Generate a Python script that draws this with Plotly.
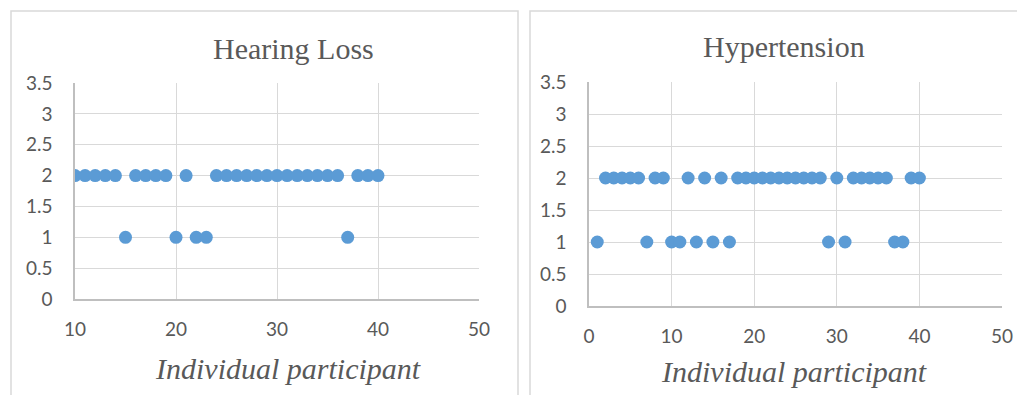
import plotly.graph_objects as go

# Data
hl_participant = list(range(10, 41))
hl_values = [2, 2, 2, 2, 2, 1, 2, 2, 2, 2, 1, 2, 1, 1, 2, 2, 2, 2, 2, 2, 2, 2, 2, 2, 2, 2, 2, 1, 2, 2, 2]
ht_participant = list(range(1, 41))
ht_values = [1, 2, 2, 2, 2, 2, 1, 2, 2, 1, 1, 2, 1, 2, 1, 2, 1, 2, 2, 2,
             2, 2, 2, 2, 2, 2, 2, 2, 1, 2, 1, 2, 2, 2, 2, 2, 1, 1, 2, 2]
titles = ["Hearing Loss", "Hypertension"]
x_title = "Individual participant"

OFF = 8  # page body margin
W, H = 1025 - OFF, 395 - OFF
BLUE = "#5B9BD5"
GRID = "#D9D9D9"
AXIS = "#BFBFBF"
TXT = "#595959"
TICKFONT = dict(family="Lato, 'Open Sans', sans-serif", size=19, color=TXT)
SERIF = "'Liberation Serif', 'Times New Roman', serif"

def fx(px):
    return (px - OFF) / W

def fy(py):
    return 1 - (py - OFF) / H

fig = go.Figure()
fig.add_trace(go.Scatter(x=hl_participant, y=hl_values, mode="markers",
                         marker=dict(color=BLUE, size=13), xaxis="x", yaxis="y", showlegend=False))
fig.add_trace(go.Scatter(x=ht_participant, y=ht_values, mode="markers",
                         marker=dict(color=BLUE, size=13), xaxis="x2", yaxis="y2", showlegend=False))

common_x = dict(dtick=10, showgrid=True, gridcolor=GRID, gridwidth=1.3, showline=True,
                linecolor=AXIS, linewidth=1.5, zeroline=False, tickfont=TICKFONT,
                ticks="", ticklabelstandoff=12, fixedrange=True, automargin=False)
common_y = dict(range=[0, 3.5], dtick=0.5, showgrid=True, gridcolor=GRID, gridwidth=1.3,
                showline=True, linecolor=AXIS, linewidth=1.5, zeroline=False,
                tickfont=TICKFONT, ticks="", ticklabelstandoff=17, fixedrange=True, automargin=False)

fig.update_layout(
    width=W, height=H,
    margin=dict(l=0, r=0, t=0, b=0, pad=0, autoexpand=False),
    paper_bgcolor="white", plot_bgcolor="white",
    xaxis=dict(common_x, range=[10, 50], domain=[fx(75), fx(479)], anchor="y"),
    yaxis=dict(common_y, domain=[fy(299), fy(83)], anchor="x"),
    xaxis2=dict(common_x, range=[0, 50], domain=[fx(589), fx(1002)], anchor="y2"),
    yaxis2=dict(common_y, domain=[fy(306), fy(82)], anchor="x2"),
    shapes=[
        dict(type="rect", xref="paper", yref="paper", x0=fx(11), x1=fx(518), y0=fy(420), y1=fy(11),
             line=dict(color=GRID, width=1.5), layer="below"),
        dict(type="rect", xref="paper", yref="paper", x0=fx(530), x1=fx(1040), y0=fy(420), y1=fy(11),
             line=dict(color=GRID, width=1.5), layer="below"),
    ],
    annotations=[
        dict(text=titles[0], x=fx(293), y=fy(48), xref="paper", yref="paper", showarrow=False,
             xanchor="center", yanchor="middle", font=dict(family=SERIF, size=30, color=TXT)),
        dict(text=titles[1], x=fx(784), y=fy(47), xref="paper", yref="paper", showarrow=False,
             xanchor="center", yanchor="middle", font=dict(family=SERIF, size=30, color=TXT)),
        dict(text="<i>" + x_title + "</i>", x=fx(288), y=fy(368), xref="paper", yref="paper",
             showarrow=False, xanchor="center", yanchor="middle",
             font=dict(family=SERIF, size=30, color=TXT)),
        dict(text="<i>" + x_title + "</i>", x=fx(794), y=fy(371), xref="paper", yref="paper",
             showarrow=False, xanchor="center", yanchor="middle",
             font=dict(family=SERIF, size=30, color=TXT)),
    ],
)

fig.write_html("out.html")
